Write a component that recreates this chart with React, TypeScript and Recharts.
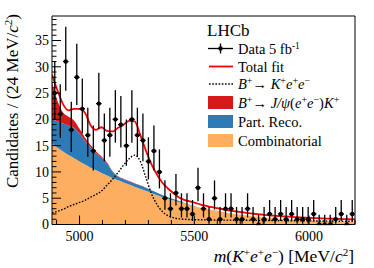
import React from 'react';
import { ComposedChart, Area, Line, Scatter, XAxis, YAxis, ErrorBar } from 'recharts';

// Histogram binning (24 MeV/c^2 bins from 4880 to 6200)
const BIN_LOW = 4880;
const BIN_WIDTH = 24;
const X_DOMAIN: [number, number] = [4880, 6200];
const Y_DOMAIN: [number, number] = [0, 39.66];

// Data: candidates per bin (55 bins)
const counts = [
  25, 21, 31, 18, 28, 22, 17, 14, 23, 16,
  17, 20, 19, 15, 20, 17, 16, 12, 14, 10,
  5, 3, 6, 3, 3, 2, 7, 3, 1, 5,
  1, 3, 3, 1, 1, 3, 1, 0, 1, 2,
  1, 2, 1, 2, 1, 1, 1, 2, 0, 0,
  0, 1, 2, 0, 2,
];

// Fit components sampled at the bin edges (56 values)
const combinatorial = [
  15.4, 14.6, 13.9, 13.2, 12.6, 12.0, 11.4, 10.8, 10.3, 9.8,
  9.3, 8.8, 8.4, 8.0, 7.6, 7.2, 6.8, 6.4, 6.0, 5.6,
  5.2, 4.9, 4.6, 4.3, 4.0, 3.7, 3.45, 3.2, 3.0, 2.8,
  2.6, 2.4, 2.2, 2.05, 1.9, 1.75, 1.6, 1.5, 1.4, 1.3,
  1.2, 1.1, 1.0, 0.95, 0.9, 0.85, 0.8, 0.75, 0.7, 0.65,
  0.6, 0.56, 0.53, 0.5, 0.47, 0.45,
];
const partReco = [
  4.6, 5.0, 5.3, 5.6, 5.8, 5.3, 4.5, 3.9, 3.3, 2.9,
  2.3, 1.2, 0.7, 0.6, 0.6, 0.6, 0.6, 0.6, 0.5, 0.5,
  0.4, 0.3, 0.25, 0.2, 0.1, 0.05, 0, 0, 0, 0,
  0, 0, 0, 0, 0, 0, 0, 0, 0, 0,
  0, 0, 0, 0, 0, 0, 0, 0, 0, 0,
  0, 0, 0, 0, 0, 0,
];
const jpsiLeak = [
  7.0, 3.9, 2.1, 1.7, 1.4, 0.9, 0.6, 0.4, 0.3, 0.25,
  0.2, 0.15, 0.1, 0.1, 0.08, 0.06, 0.05, 0.05, 0.05, 0,
  0, 0, 0, 0, 0, 0, 0, 0, 0, 0,
  0, 0, 0, 0, 0, 0, 0, 0, 0, 0,
  0, 0, 0, 0, 0, 0, 0, 0, 0, 0,
  0, 0, 0, 0, 0, 0,
];
const signalKee = [
  2.2, 2.5, 2.9, 3.4, 3.8, 4.2, 4.6, 5.2, 5.7, 6.4,
  7.5, 8.6, 9.9, 11.3, 12.5, 13.2, 12.1, 9.1, 6.0, 3.9,
  2.5, 1.7, 1.3, 1.1, 1.0, 0.95, 0.9, 0.9, 0.88, 0.86,
  0.85, 0.84, 0.83, 0.82, 0.81, 0.8, 0.79, 0.78, 0.77, 0.76,
  0.75, 0.74, 0.73, 0.72, 0.71, 0.7, 0.69, 0.68, 0.67, 0.66,
  0.65, 0.64, 0.63, 0.62, 0.61, 0.6,
];
const totalFit = [
  28.5, 25.5, 22.9, 21.7, 22.0, 22.0, 21.2, 18.9, 18.0, 18.5,
  17.8, 17.7, 18.4, 19.0, 19.7, 19.6, 17.1, 14.2, 11.6, 9.6,
  8.0, 6.9, 6.0, 5.2, 4.7, 4.4, 4.1, 3.8, 3.55, 3.3,
  3.1, 2.9, 2.7, 2.55, 2.4, 2.25, 2.12, 2.0, 1.9, 1.8,
  1.7, 1.62, 1.55, 1.48, 1.42, 1.36, 1.3, 1.25, 1.2, 1.16,
  1.12, 1.09, 1.06, 1.03, 1.0, 0.98,
];

// Axis ticks
const xTicks = [4900, 5000, 5100, 5200, 5300, 5400, 5500, 5600, 5700, 5800, 5900, 6000, 6100, 6200];
const xLabels = [5000, 5500, 6000];
const yTicks = Array.from({ length: 40 }, (_, i) => i);
const yLabels = [0, 5, 10, 15, 20, 25, 30, 35];

const curveData = combinatorial.map((c, i) => ({
  m: BIN_LOW + i * BIN_WIDTH,
  comb: c,
  part: partReco[i],
  jpsi: jpsiLeak[i],
  sig: signalKee[i],
  total: totalFit[i],
}));

const points = counts.map((n, i) => ({
  m: BIN_LOW + BIN_WIDTH * (i + 0.5),
  n,
  yerr: [n > 0 ? Math.sqrt(n - 0.25) : 0, 1 + Math.sqrt(n + 0.75)],
  xerr: BIN_WIDTH / 2,
}));

const FONT = '"Liberation Serif", "Times New Roman", "DejaVu Serif", serif';

const YTick = (props: any) => {
  const { x, y, payload } = props;
  const v = payload.value;
  const major = yLabels.includes(v);
  return (
    <g>
      <line x1={x} x2={x + (major ? 9 : 4.5)} y1={y} y2={y} stroke="#000" strokeWidth={1} />
      {major && (
        <text x={x - 3} y={y} dy="0.35em" textAnchor="end" fontFamily={FONT} fontSize={14} fill="#000">
          {v}
        </text>
      )}
    </g>
  );
};

const XTick = (props: any) => {
  const { x, y, payload } = props;
  const v = payload.value;
  const major = xLabels.includes(v);
  return (
    <g>
      <line x1={x} x2={x} y1={y} y2={y - (major ? 9 : 4.5)} stroke="#000" strokeWidth={1} />
      {major && (
        <text x={x} y={y + 16.5} textAnchor="middle" fontFamily={FONT} fontSize={14} fill="#000">
          {v}
        </text>
      )}
    </g>
  );
};

const Dot = (p: any) => <circle cx={p.cx} cy={p.cy} r={2.2} fill="#000" />;

const sup = (s: string, size = 10) => (
  <tspan baselineShift="super" fontSize={size}>{s}</tspan>
);
const it = (s: string) => <tspan fontStyle="italic">{s}</tspan>;

const Overlay = () => {
  const tx = 238;
  const rows = [48.5, 66.5, 84, 102.5, 121.5, 140.5];
  return (
    <svg width={374} height={268} style={{ position: 'absolute', left: 0, top: 0, pointerEvents: 'none' }}>
      <g fontFamily={FONT} fill="#000">
        <text transform="translate(17.5,14) rotate(-90)" textAnchor="end" fontSize={17}>
          Candidates / (24 MeV/{it('c')}{sup('2', 11)})
        </text>
        <text x={354} y={262} textAnchor="end" fontSize={17.5}>
          {it('m')}({it('K')}{sup('+', 11)}{it('e')}{sup('+', 11)}{it('e')}{sup('\u2212', 11)}) [MeV/{it('c')}{sup('2', 11)}]
        </text>
        <text x={207} y={36} fontSize={17}>LHCb</text>
        {/* Data */}
        <line x1={208} x2={233} y1={rows[0]} y2={rows[0]} stroke="#000" strokeWidth={1.3} />
        <line x1={220.5} x2={220.5} y1={rows[0] - 5} y2={rows[0] + 5} stroke="#000" strokeWidth={1.3} />
        <circle cx={220.5} cy={rows[0]} r={2.2} fill="#000" />
        <text x={tx} y={rows[0] + 5} fontSize={14.5}>Data 5 fb{sup('-1', 9.5)}</text>
        {/* Total fit */}
        <line x1={209} x2={233} y1={rows[1]} y2={rows[1]} stroke="#ff0000" strokeWidth={1.8} />
        <text x={tx} y={rows[1] + 5} fontSize={14.5}>Total fit</text>
        {/* Signal */}
        <line x1={209} x2={233} y1={rows[2]} y2={rows[2]} stroke="#000" strokeWidth={1.4} strokeDasharray="1.6 1.6" />
        <text x={tx} y={rows[2] + 5} fontSize={14.5}>
          {it('B')}{sup('+', 10)}{'\u2192'} {it('K')}{sup('+', 10)}{it('e')}{sup('+', 10)}{it('e')}{sup('\u2212', 10)}
        </text>
        {/* J/psi */}
        <rect x={208} y={rows[3] - 6.5} width={25} height={13} fill="#d7191c" />
        <text x={tx} y={rows[3] + 5} fontSize={14.5}>
          {it('B')}{sup('+', 10)}{'\u2192'} {it('J/\u03C8')}({it('e')}{sup('+', 10)}{it('e')}{sup('\u2212', 10)}){it('K')}{sup('+', 10)}
        </text>
        {/* Part reco */}
        <rect x={208} y={rows[4] - 6.5} width={25} height={13} fill="#2c7bb6" />
        <text x={tx} y={rows[4] + 5} fontSize={14.5}>Part. Reco.</text>
        {/* Combinatorial */}
        <rect x={208} y={rows[5] - 6.5} width={25} height={13} fill="#fdae61" />
        <text x={tx} y={rows[5] + 5} fontSize={14.5}>Combinatorial</text>
      </g>
    </svg>
  );
};

export default function App() {
  return (
    <div style={{ position: 'absolute', left: 0, top: 0, width: 374, height: 268, background: '#fff' }}>
      <ComposedChart
        width={374}
        height={268}
        data={curveData}
        margin={{ top: 15, right: 18, bottom: 42.5, left: 51 }}
      >
        <Area type="monotone" dataKey="comb" stackId="s" fill="#fdae61" fillOpacity={1} stroke="none" isAnimationActive={false} />
        <Area type="monotone" dataKey="part" stackId="s" fill="#2c7bb6" fillOpacity={1} stroke="none" isAnimationActive={false} />
        <Area type="monotone" dataKey="jpsi" stackId="s" fill="#d7191c" fillOpacity={1} stroke="none" isAnimationActive={false} />
        <Line type="monotone" dataKey="sig" stroke="#000" strokeWidth={1.4} strokeDasharray="1.6 1.6" dot={false} isAnimationActive={false} />
        <Line type="monotone" dataKey="total" stroke="#ff0000" strokeWidth={1.8} dot={false} isAnimationActive={false} />
        <Scatter data={points} dataKey="n" fill="#000" shape={Dot} isAnimationActive={false}>
          <ErrorBar dataKey="yerr" direction="y" width={0} stroke="#000" strokeWidth={1.3} />
          <ErrorBar dataKey="xerr" direction="x" width={0} stroke="#000" strokeWidth={1.3} />
        </Scatter>
        <XAxis
          type="number"
          dataKey="m"
          domain={X_DOMAIN}
          allowDataOverflow
          ticks={xTicks}
          interval={0}
          height={1}
          tickSize={0}
          tickMargin={0}
          tick={<XTick />}
          axisLine={{ stroke: '#000', strokeWidth: 1 }}
        />
        <XAxis
          xAxisId="top"
          orientation="top"
          type="number"
          dataKey="m"
          domain={X_DOMAIN}
          allowDataOverflow
          ticks={xTicks}
          height={1}
          tick={false}
          tickLine={false}
          axisLine={{ stroke: '#000', strokeWidth: 1 }}
        />
        <YAxis
          type="number"
          domain={Y_DOMAIN}
          allowDataOverflow
          ticks={yTicks}
          interval={0}
          width={1}
          tickSize={0}
          tickMargin={0}
          tick={<YTick />}
          axisLine={{ stroke: '#000', strokeWidth: 1 }}
        />
        <YAxis
          yAxisId="right"
          orientation="right"
          type="number"
          domain={Y_DOMAIN}
          allowDataOverflow
          ticks={yLabels}
          width={1}
          tick={false}
          tickLine={false}
          axisLine={{ stroke: '#000', strokeWidth: 1 }}
        />
      </ComposedChart>
      <Overlay />
    </div>
  );
}
